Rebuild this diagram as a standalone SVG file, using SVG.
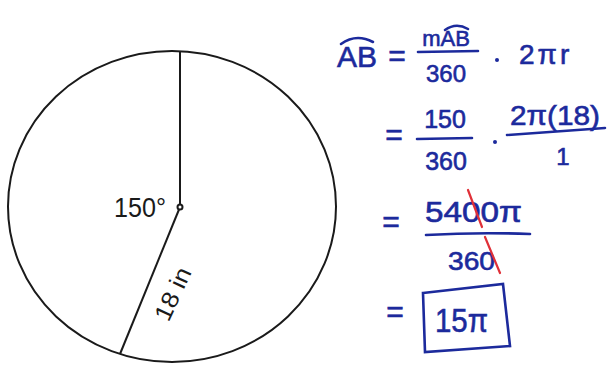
<svg xmlns="http://www.w3.org/2000/svg" width="609" height="366" viewBox="0 0 609 366">
<style>
.k{fill:#1a1a1a;font-family:"Liberation Sans",Arial,sans-serif}
.b{fill:#1c2a9c;stroke:#1c2a9c;stroke-width:0.6;font-family:"Liberation Sans",Arial,sans-serif}
.bl{stroke:#1c2a9c;stroke-width:2.6;fill:none;stroke-linecap:round}
.rd{stroke:#e03038;stroke-width:2.2;fill:none;stroke-linecap:round}
.ln{stroke:#1a1a1a;stroke-width:2;fill:none}
</style>
<rect width="609" height="366" fill="#ffffff"/>
<g id="circle">
<ellipse class="ln" cx="172" cy="206.5" rx="164" ry="155.5"/>
<line class="ln" x1="180" y1="51" x2="180" y2="204.5"/>
<circle class="ln" cx="180" cy="207" r="2.5" stroke-width="1.5"/>
<line class="ln" x1="179" y1="209.5" x2="120" y2="354"/>
<text class="k" x="114" y="217" font-size="28" textLength="52" lengthAdjust="spacingAndGlyphs">150°</text>
<text class="k" transform="translate(173,294) rotate(-65)" x="0" y="8" font-size="24" text-anchor="middle" textLength="56" lengthAdjust="spacingAndGlyphs">18 in</text>
</g>
<g id="line1">
<text class="b" x="357" y="67" font-size="30" text-anchor="middle">AB</text>
<path class="bl" d="M341,44 Q356,33 373,42"/>
<text class="b" x="397" y="66" font-size="30" text-anchor="middle">=</text>
<text class="b" x="446" y="46" font-size="22" text-anchor="middle">mAB</text>
<path class="bl" d="M445,30 Q456,22 468,29"/>
<line class="bl" x1="418" y1="52" x2="478" y2="51"/>
<text class="b" x="446" y="82" font-size="24" text-anchor="middle">360</text>
<circle cx="497" cy="60" r="2" fill="#1c2a9c"/>
<text class="b" x="519" y="64" font-size="28" letter-spacing="3">2πr</text>
</g>
<g id="line2">
<text class="b" x="394" y="145" font-size="30" text-anchor="middle">=</text>
<text class="b" x="445" y="128" font-size="25" text-anchor="middle">150</text>
<line class="bl" x1="417" y1="139" x2="472" y2="138"/>
<text class="b" x="446" y="170" font-size="25" text-anchor="middle">360</text>
<circle cx="495" cy="142" r="2" fill="#1c2a9c"/>
<text class="b" x="510" y="125" font-size="28" textLength="90" lengthAdjust="spacingAndGlyphs">2π(18)</text>
<path class="bl" d="M507,135 L605,128"/>
<text class="b" x="563" y="165" font-size="24" text-anchor="middle">1</text>
</g>
<g id="line3">
<text class="b" x="391" y="232" font-size="30" text-anchor="middle">=</text>
<text class="b" x="425" y="222" font-size="29" textLength="97" lengthAdjust="spacingAndGlyphs">5400π</text>
<path class="bl" d="M426,235 Q478,232 530,234"/>
<text class="b" x="448" y="270" font-size="26" textLength="47" lengthAdjust="spacingAndGlyphs">360</text>
<line class="rd" x1="468" y1="190" x2="482" y2="227"/>
<line class="rd" x1="485" y1="237" x2="500" y2="273"/>
</g>
<g id="line4">
<text class="b" x="395" y="322" font-size="30" text-anchor="middle">=</text>
<path class="bl" d="M423,293 L503,284 L510,346 L425,352 Z"/>
<text class="b" x="435" y="332" font-size="34" textLength="53" lengthAdjust="spacingAndGlyphs">15π</text>
</g>
</svg>
